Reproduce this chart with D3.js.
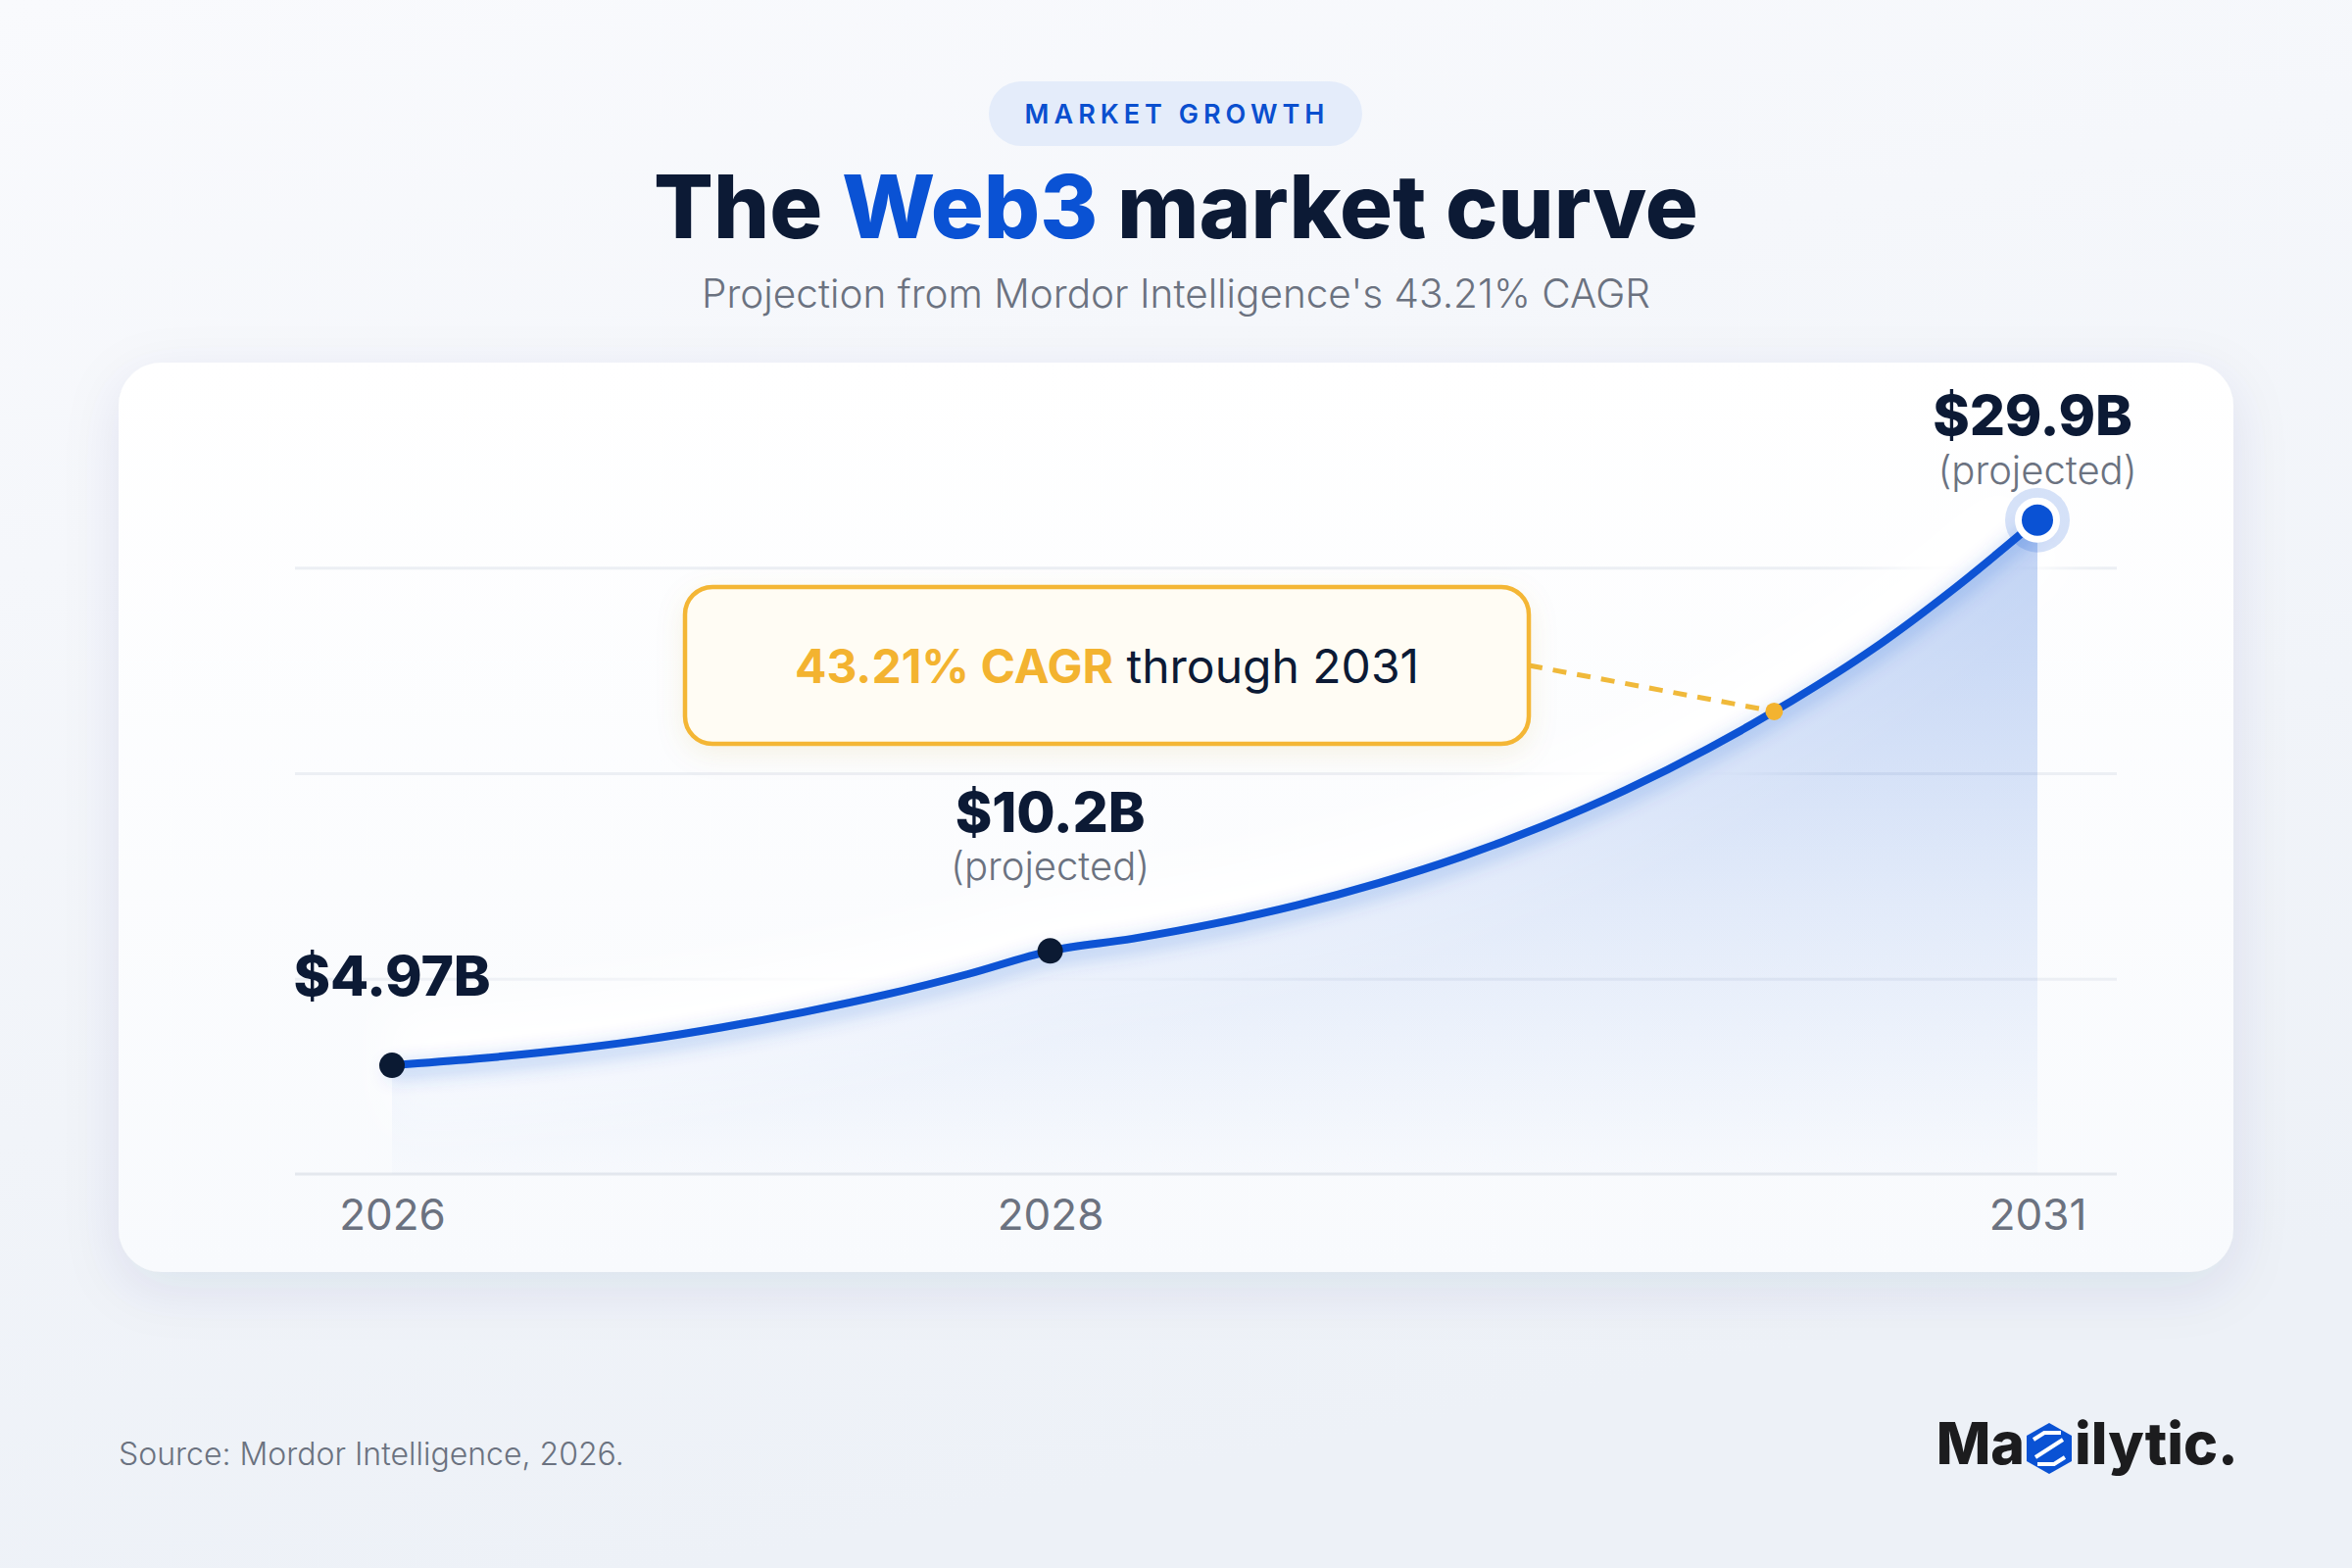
<!DOCTYPE html>
<html>
<head>
<meta charset="utf-8">
<script src="https://cdn.jsdelivr.net/npm/d3@7"></script>
<style>
  html, body { margin: 0; padding: 0; background: #f3f5fa; }
  svg { display: block; font-family: Inter, "Noto Sans", sans-serif; }
</style>
</head>
<body>
<svg id="chart" width="2400" height="1600"></svg>
<script>
// values
const years = [2026, 2028, 2031];
const values = [4.97, 10.2, 29.9];
const valueLabels = ["$4.97B", "$10.2B", "$29.9B"];
const noteLabels = ["", "(projected)", "(projected)"];
// curve, quarter-year steps
const curveYears = [2026, 2026.25, 2026.5, 2026.75, 2027, 2027.25, 2027.5, 2027.75,
  2028, 2028.25, 2028.5, 2028.75, 2029, 2029.25, 2029.5, 2029.75,
  2030, 2030.25, 2030.5, 2030.75, 2031];
const curveValues = [4.97, 5.26, 5.63, 6.1, 6.7, 7.4, 8.2, 9.14,
  10.2, 10.76, 11.45, 12.29, 13.31, 14.51, 15.93, 17.57,
  19.46, 21.6, 24.0, 26.8, 29.9];
const gridValues = [8.9, 18.3, 27.7];
const tickYears = [2026, 2028, 2031];
const cagrYear = 2030.2;

const svg = d3.select("#chart");
const defs = svg.append("defs");

// page background
const bg = defs.append("linearGradient").attr("id", "bg")
  .attr("x1", 0).attr("y1", 0).attr("x2", 0.3).attr("y2", 1);
bg.append("stop").attr("offset", 0).attr("stop-color", "#f9fafd");
bg.append("stop").attr("offset", 1).attr("stop-color", "#edf1f7");

const cardFill = defs.append("linearGradient").attr("id", "cardFill")
  .attr("x1", 0).attr("y1", 0).attr("x2", 0).attr("y2", 1);
cardFill.append("stop").attr("offset", 0).attr("stop-color", "#ffffff");
cardFill.append("stop").attr("offset", 1).attr("stop-color", "#f8fafd");

const cardShadow = defs.append("filter").attr("id", "cardShadow")
  .attr("x", "-10%").attr("y", "-10%").attr("width", "120%").attr("height", "130%");
cardShadow.append("feDropShadow").attr("dx", 0).attr("dy", 16).attr("stdDeviation", 28)
  .attr("flood-color", "#27406e").attr("flood-opacity", 0.09);

const boxShadow = defs.append("filter").attr("id", "boxShadow")
  .attr("x", "-10%").attr("y", "-20%").attr("width", "120%").attr("height", "150%");
boxShadow.append("feDropShadow").attr("dx", 0).attr("dy", 8).attr("stdDeviation", 14)
  .attr("flood-color", "#b98a1e").attr("flood-opacity", 0.10);

const whiteGlow = defs.append("filter").attr("id", "whiteGlow")
  .attr("x", "-20%").attr("y", "-30%").attr("width", "140%").attr("height", "160%");
whiteGlow.append("feGaussianBlur").attr("stdDeviation", 24);

const lineGlow = defs.append("filter").attr("id", "lineGlow")
  .attr("x", "-10%").attr("y", "-20%").attr("width", "120%").attr("height", "140%");
lineGlow.append("feDropShadow").attr("dx", 0).attr("dy", 6).attr("stdDeviation", 10)
  .attr("flood-color", "#0a52d4").attr("flood-opacity", 0.42);

svg.append("rect").attr("width", 2400).attr("height", 1600).attr("fill", "url(#bg)");

// header
svg.append("rect")
  .attr("x", 1009).attr("y", 83).attr("width", 381).attr("height", 66)
  .attr("rx", 33).attr("fill", "#e4ecfa");
svg.append("text")
  .attr("x", 1201).attr("y", 126)
  .attr("text-anchor", "middle")
  .attr("font-size", 27).attr("font-weight", 600)
  .attr("letter-spacing", 5)
  .attr("fill", "#0a4fcf")
  .text("MARKET GROWTH");

const title = svg.append("text")
  .attr("x", 1200).attr("y", 243)
  .attr("text-anchor", "middle")
  .attr("font-size", 90).attr("font-weight", 800)
  .attr("fill", "#0c1a35");
title.append("tspan").text("The ");
title.append("tspan").attr("fill", "#0a52d4").text("Web3");
title.append("tspan").text(" market curve");

svg.append("text")
  .attr("x", 1200).attr("y", 314)
  .attr("text-anchor", "middle")
  .attr("font-size", 40.5).attr("font-weight", 300)
  .attr("fill", "#6b7280")
  .text("Projection from Mordor Intelligence's 43.21% CAGR");

// card
svg.append("rect")
  .attr("x", 121).attr("y", 370).attr("width", 2158).attr("height", 928)
  .attr("rx", 44).attr("fill", "url(#cardFill)")
  .attr("filter", "url(#cardShadow)");

const x = d3.scaleLinear().domain([2026, 2031]).range([400, 2079]);
const y = d3.scaleLinear().domain([0, 30]).range([1198, 528.4]);

const gridLeft = 301, gridRight = 2160;

svg.append("g").selectAll("line")
  .data(gridValues)
  .join("line")
  .attr("x1", gridLeft).attr("x2", gridRight)
  .attr("y1", d => y(d)).attr("y2", d => y(d))
  .attr("stroke", "#eceff4").attr("stroke-width", 3);

svg.append("line")
  .attr("x1", gridLeft).attr("x2", gridRight)
  .attr("y1", y(0)).attr("y2", y(0))
  .attr("stroke", "#e4e8ee").attr("stroke-width", 3);

const curvePts = curveYears.map((yr, i) => [yr, curveValues[i]]);

const line = d3.line()
  .x(d => x(d[0])).y(d => y(d[1]))
  .curve(d3.curveMonotoneX);
const area = d3.area()
  .x(d => x(d[0])).y0(y(0)).y1(d => y(d[1]))
  .curve(d3.curveMonotoneX);

const areaGrad = defs.append("linearGradient").attr("id", "areaGrad")
  .attr("gradientUnits", "userSpaceOnUse")
  .attr("x1", 0).attr("x2", 0)
  .attr("y1", y(d3.max(curveValues))).attr("y2", y(0));
areaGrad.append("stop").attr("offset", 0).attr("stop-color", "#0a52d4").attr("stop-opacity", 0.26);
areaGrad.append("stop").attr("offset", 0.6).attr("stop-color", "#0a52d4").attr("stop-opacity", 0.10);
areaGrad.append("stop").attr("offset", 1).attr("stop-color", "#0a52d4").attr("stop-opacity", 0.01);

// soft white halo around the curve
svg.append("path")
  .datum(curvePts)
  .attr("d", line)
  .attr("fill", "none")
  .attr("stroke", "#ffffff")
  .attr("stroke-width", 110)
  .attr("stroke-linecap", "butt")
  .attr("filter", "url(#whiteGlow)");

svg.append("path")
  .datum(curvePts)
  .attr("d", area)
  .attr("fill", "url(#areaGrad)");

const curve = svg.append("path")
  .datum(curvePts)
  .attr("d", line)
  .attr("fill", "none")
  .attr("stroke", "#0a52d4")
  .attr("stroke-width", 8)
  .attr("stroke-linecap", "round")
  .attr("filter", "url(#lineGlow)");

// find the curve point at a given x
function pointAtX(node, tx) {
  let lo = 0, hi = node.getTotalLength();
  for (let k = 0; k < 40; k++) {
    const mid = (lo + hi) / 2;
    if (node.getPointAtLength(mid).x < tx) lo = mid; else hi = mid;
  }
  return node.getPointAtLength((lo + hi) / 2);
}

// callout
const box = { x: 699, y: 599, w: 861, h: 160 };
const anchor = pointAtX(curve.node(), x(cagrYear));

svg.append("line")
  .attr("x1", box.x + box.w).attr("y1", box.y + box.h / 2)
  .attr("x2", anchor.x).attr("y2", anchor.y)
  .attr("stroke", "#f0b93a").attr("stroke-width", 5)
  .attr("stroke-dasharray", "14 11");

svg.append("rect")
  .attr("x", box.x).attr("y", box.y).attr("width", box.w).attr("height", box.h)
  .attr("rx", 28).attr("fill", "#fffcf4")
  .attr("stroke", "#f4b634").attr("stroke-width", 4.5)
  .attr("filter", "url(#boxShadow)");

const cagrText = svg.append("text")
  .attr("x", box.x + box.w / 2).attr("y", 697)
  .attr("text-anchor", "middle")
  .attr("font-size", 48);
cagrText.append("tspan").attr("font-weight", 700).attr("fill", "#f3b330").text("43.21% CAGR");
cagrText.append("tspan").attr("font-weight", 400).attr("fill", "#0c1a35").text(" through 2031");

svg.append("circle")
  .attr("cx", anchor.x).attr("cy", anchor.y).attr("r", 9)
  .attr("fill", "#f3b330");

// data points
const last = years.length - 1;
svg.append("g").selectAll("circle")
  .data(years.slice(0, last))
  .join("circle")
  .attr("cx", d => x(d))
  .attr("cy", (d, i) => y(values[i]))
  .attr("r", 13)
  .attr("fill", "#0b1a33");

svg.append("circle")
  .attr("cx", x(years[last])).attr("cy", y(values[last])).attr("r", 33)
  .attr("fill", "#0a52d4").attr("fill-opacity", 0.17);
svg.append("circle")
  .attr("cx", x(years[last])).attr("cy", y(values[last])).attr("r", 19.5)
  .attr("fill", "#0a52d4")
  .attr("stroke", "#ffffff").attr("stroke-width", 7);

// point labels
const valueDy = [-71, -121, -87];
const noteDy = [0, -72, -37];
const labelDx = [0, 0, -5];

svg.append("g").selectAll("text")
  .data(years)
  .join("text")
  .attr("x", (d, i) => x(d) + labelDx[i])
  .attr("y", (d, i) => y(values[i]) + valueDy[i])
  .attr("text-anchor", "middle")
  .attr("font-size", 57).attr("font-weight", 800)
  .attr("letter-spacing", -0.2)
  .attr("fill", "#0c1a35")
  .text((d, i) => valueLabels[i]);

svg.append("g").selectAll("text")
  .data(years.filter((d, i) => noteLabels[i]))
  .join("text")
  .attr("x", d => x(d))
  .attr("y", d => y(values[years.indexOf(d)]) + noteDy[years.indexOf(d)])
  .attr("text-anchor", "middle")
  .attr("font-size", 40).attr("font-weight", 300)
  .attr("fill", "#6b7280")
  .text(d => noteLabels[years.indexOf(d)]);

// x axis
const xAxis = svg.append("g")
  .attr("transform", `translate(0,${y(0)})`)
  .call(d3.axisBottom(x).tickValues(tickYears).tickFormat(d3.format("d")).tickSize(0));
xAxis.select(".domain").remove();
xAxis.selectAll("text")
  .attr("y", 57).attr("dy", 0)
  .attr("font-family", "Inter, 'Noto Sans', sans-serif")
  .attr("font-size", 44).attr("font-weight", 400)
  .attr("fill", "#6b7280");

// footer
svg.append("text")
  .attr("x", 121).attr("y", 1495)
  .attr("font-size", 32).attr("font-weight", 300)
  .attr("fill", "#6b7280")
  .text("Source: Mordor Intelligence, 2026.");

const logo = svg.append("g").attr("transform", "translate(2091,1478)");
logo.append("text")
  .attr("x", -25).attr("y", 16)
  .attr("text-anchor", "end")
  .attr("font-size", 59).attr("font-weight", 800)
  .attr("fill", "#1c1c1e")
  .text("Ma");
logo.append("path")
  .attr("d", "M0,-26 L23,-13 L23,13 L0,26 L-23,13 L-23,-13 Z")
  .attr("fill", "#0a52d4");
logo.append("path")
  .attr("d", "M-16,-9 L-5,-16 L12,-16 M14,-9 L-14,9 M16,9 L5,16 L-12,16")
  .attr("fill", "none").attr("stroke", "#ffffff").attr("stroke-width", 4);
logo.append("text")
  .attr("x", 26).attr("y", 16)
  .attr("font-size", 59).attr("font-weight", 800)
  .attr("fill", "#1c1c1e")
  .text("ilytic.");
</script>
</body>
</html>
